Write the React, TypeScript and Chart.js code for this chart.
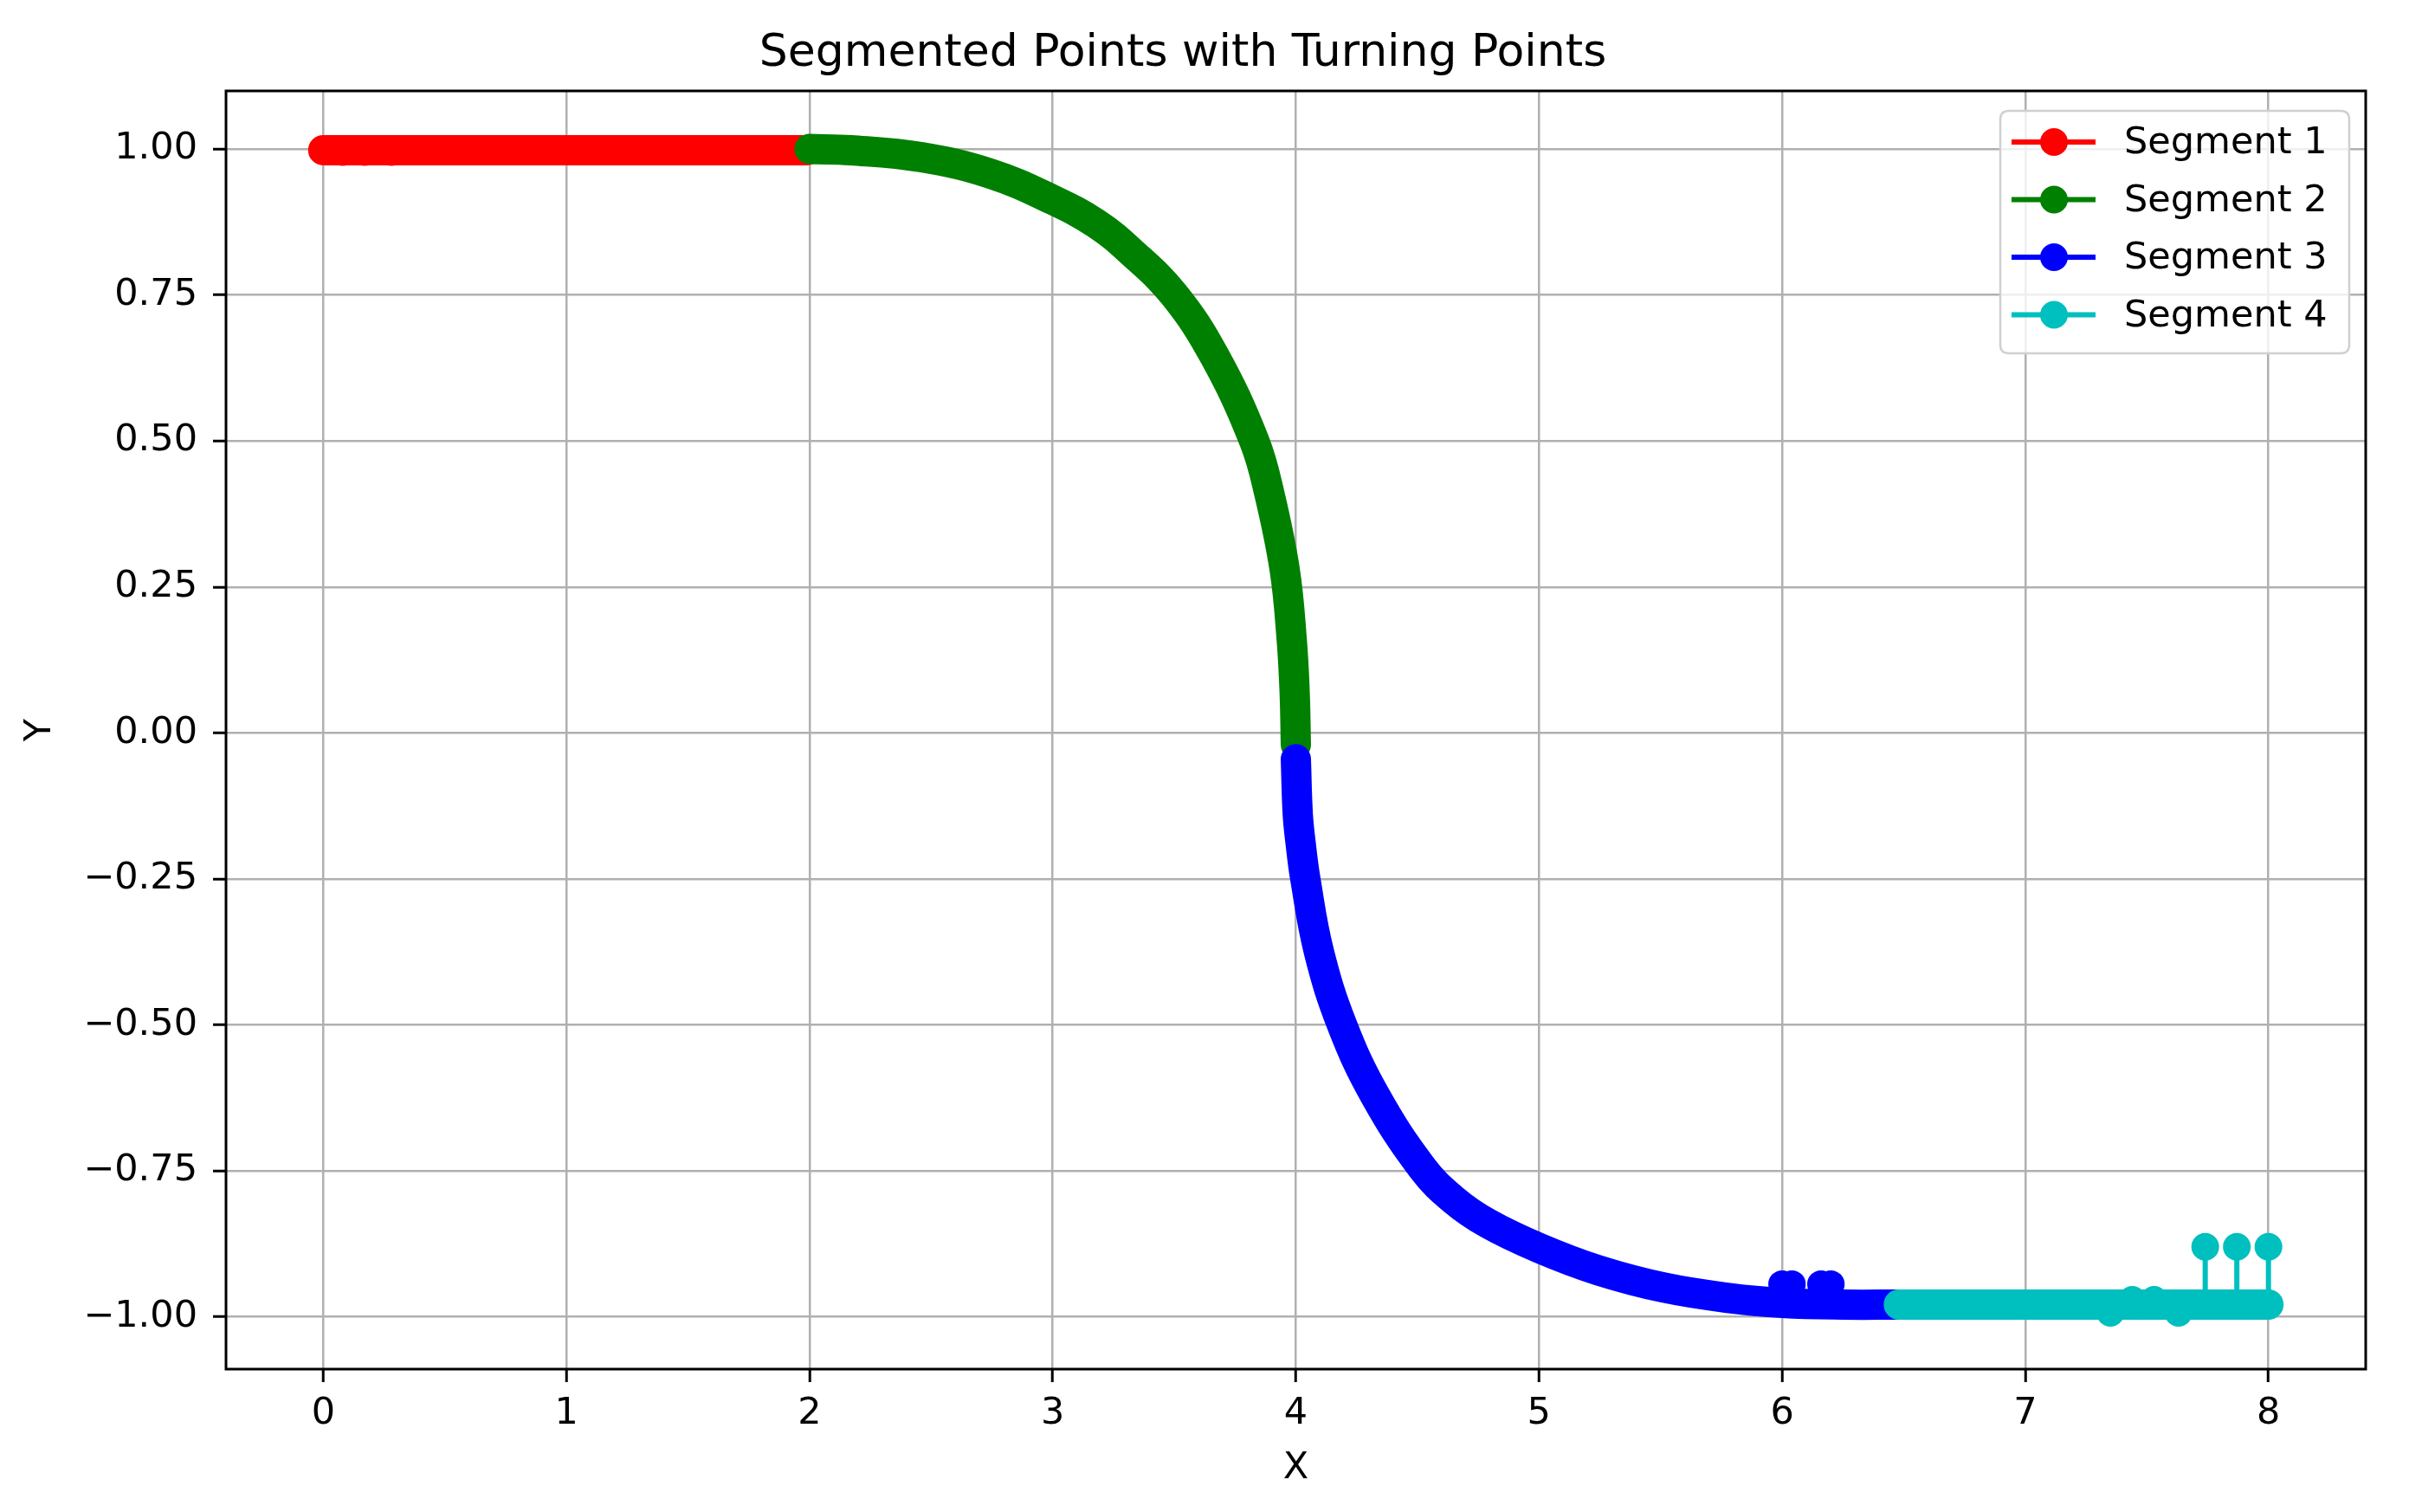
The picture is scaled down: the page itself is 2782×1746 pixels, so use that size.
import React, { useEffect, useRef } from 'react';
import { Chart, registerables } from 'chart.js';

Chart.register(...registerables);

// ---------- data ----------
const segmentLabels = ['Segment 1', 'Segment 2', 'Segment 3', 'Segment 4'];
const segmentColors = ['#ff0000', '#008000', '#0000ff', '#00bfbf'];

const seg1X = [0.0, 1.99];
const seg1Y = [0.998, 0.998];
const seg1ExtraX = [0.08, 0.17, 0.28];
const seg1ExtraY = [0.995, 0.995, 0.995];

const seg2X = [2.0, 2.17, 2.46, 2.75, 3.0, 3.18, 3.32, 3.5, 3.666, 3.829, 3.891, 3.954, 3.983, 3.995, 4.0];
const seg2Y = [1.0, 0.998, 0.986, 0.957, 0.913, 0.872, 0.825, 0.75, 0.645, 0.5, 0.41, 0.28, 0.16, 0.07, -0.02];

const seg3X = [4.0, 4.008, 4.02, 4.039, 4.095, 4.19, 4.326, 4.52, 4.65, 4.79, 5.0, 5.242, 5.515, 5.787, 6.0, 6.25, 6.48];
const seg3Y = [-0.045, -0.14, -0.19, -0.25, -0.375, -0.5, -0.621, -0.745, -0.8, -0.84, -0.882, -0.92, -0.95, -0.968, -0.976, -0.979, -0.979];
const seg3ExtraX = [6.0, 6.04, 6.16, 6.2];
const seg3ExtraY = [-0.944, -0.944, -0.944, -0.944];

const seg4X = [6.48, 8.0];
const seg4Y = [-0.979, -0.979];
const seg4ExtraX = [7.35, 7.44, 7.53, 7.63];
const seg4ExtraY = [-0.993, -0.971, -0.971, -0.993];
const seg4SpikeX = [7.74, 7.87, 8.0];
const seg4SpikeY = [-0.88, -0.88, -0.88];

const xTicks = [0, 1, 2, 3, 4, 5, 6, 7, 8];
const yTicks = [-1.0, -0.75, -0.5, -0.25, 0.0, 0.25, 0.5, 0.75, 1.0];

const titleText = 'Segmented Points with Turning Points';
const xLabel = 'X';
const yLabel = 'Y';

// ---------- helpers ----------
const FONT = "'DejaVu Sans', 'Liberation Sans', sans-serif";
const pts = (xs: number[], ys: (number | null)[]) => xs.map((x, i) => ({ x, y: ys[i] }));

const band = (xs: number[], ys: number[], color: string) => ({
  data: pts(xs, ys),
  showLine: true,
  borderColor: color,
  backgroundColor: color,
  borderWidth: 35,
  borderCapStyle: 'round',
  borderJoinStyle: 'round',
  cubicInterpolationMode: 'default',
  tension: 0.4,
  pointRadius: 0,
  pointHoverRadius: 0,
  fill: false,
});

const dots = (xs: number[], ys: number[], color: string) => ({
  data: pts(xs, ys),
  showLine: false,
  pointRadius: 16,
  pointHoverRadius: 16,
  pointBackgroundColor: color,
  pointBorderColor: color,
  pointBorderWidth: 0,
  backgroundColor: color,
  borderColor: color,
});

const stems = (xs: number[], ys: number[], baseY: number, color: string) => {
  const data: { x: number; y: number | null }[] = [];
  xs.forEach((x, i) => {
    data.push({ x, y: baseY });
    data.push({ x, y: ys[i] });
    data.push({ x, y: null });
  });
  return {
    data,
    showLine: true,
    spanGaps: false,
    borderColor: color,
    borderWidth: 6,
    pointRadius: 0,
    pointHoverRadius: 0,
  };
};

const fmtY = (v: number) => (v < 0 ? '\u2212' : '') + Math.abs(v).toFixed(2);

const framePlugin = {
  id: 'mplFrame',
  afterDatasetsDraw(chart: any) {
    const { ctx, chartArea: a } = chart;
    ctx.save();
    ctx.strokeStyle = '#000';
    ctx.lineWidth = 3;
    ctx.strokeRect(a.left, a.top, a.right - a.left, a.bottom - a.top);
    ctx.restore();
  },
};

const legendPlugin = {
  id: 'mplLegend',
  afterDraw(chart: any) {
    const { ctx, chartArea: a } = chart;
    const boxW = 403;
    const boxH = 280;
    const bx = a.right - 19 - boxW;
    const by = a.top + 23;
    const r = 10;
    ctx.save();
    ctx.beginPath();
    ctx.moveTo(bx + r, by);
    ctx.lineTo(bx + boxW - r, by);
    ctx.quadraticCurveTo(bx + boxW, by, bx + boxW, by + r);
    ctx.lineTo(bx + boxW, by + boxH - r);
    ctx.quadraticCurveTo(bx + boxW, by + boxH, bx + boxW - r, by + boxH);
    ctx.lineTo(bx + r, by + boxH);
    ctx.quadraticCurveTo(bx, by + boxH, bx, by + boxH - r);
    ctx.lineTo(bx, by + r);
    ctx.quadraticCurveTo(bx, by, bx + r, by);
    ctx.closePath();
    ctx.fillStyle = 'rgba(255,255,255,0.8)';
    ctx.fill();
    ctx.strokeStyle = '#d0d0d0';
    ctx.lineWidth = 2.5;
    ctx.stroke();

    segmentLabels.forEach((label, i) => {
      const cy = by + 36 + i * 66.5;
      const color = segmentColors[i];
      ctx.strokeStyle = color;
      ctx.lineWidth = 6;
      ctx.beginPath();
      ctx.moveTo(bx + 13, cy);
      ctx.lineTo(bx + 110, cy);
      ctx.stroke();
      ctx.fillStyle = color;
      ctx.beginPath();
      ctx.arc(bx + 62, cy, 16, 0, Math.PI * 2);
      ctx.fill();
      ctx.fillStyle = '#000';
      ctx.font = `43px ${FONT}`;
      ctx.textAlign = 'left';
      ctx.textBaseline = 'middle';
      ctx.fillText(label, bx + 143, cy + 2);
    });
    ctx.restore();
  },
};

export default function App() {
  const ref = useRef<HTMLCanvasElement>(null);

  useEffect(() => {
    if (!ref.current) return;
    const sequence: any[] = [
      band(seg1X, seg1Y, segmentColors[0]),
      dots(seg1ExtraX, seg1ExtraY, segmentColors[0]),
      band(seg2X, seg2Y, segmentColors[1]),
      band(seg3X, seg3Y, segmentColors[2]),
      dots(seg3ExtraX, seg3ExtraY, segmentColors[2]),
      band(seg4X, seg4Y, segmentColors[3]),
      stems(seg4SpikeX, seg4SpikeY, seg4Y[0], segmentColors[3]),
      dots(seg4ExtraX, seg4ExtraY, segmentColors[3]),
      dots(seg4SpikeX, seg4SpikeY, segmentColors[3]),
    ];
    // Chart.js draws lower `order` on top; keep matplotlib drawing sequence
    sequence.forEach((d, i) => {
      d.order = sequence.length - i;
    });

    const gridCommon = {
      color: '#b0b0b0',
      lineWidth: 2.5,
      drawTicks: true,
      tickLength: 15,
      tickColor: '#000',
      tickWidth: 3,
    };

    const chart = new Chart(ref.current, {
      type: 'scatter',
      data: { datasets: sequence },
      plugins: [framePlugin, legendPlugin],
      options: {
        animation: false,
        responsive: false,
        devicePixelRatio: 1,
        events: [],
        layout: { padding: { left: 0, right: 50, top: 0, bottom: 0 } },
        plugins: {
          legend: { display: false },
          tooltip: { enabled: false },
          title: {
            display: true,
            text: titleText,
            color: '#000',
            font: { family: FONT, size: 52, weight: 'normal' },
            padding: { top: 31, bottom: 11.6 },
          },
        },
        scales: {
          x: {
            type: 'linear',
            min: -0.4,
            max: 8.4,
            border: { display: false },
            grid: gridCommon,
            afterBuildTicks: (scale: any) => {
              scale.ticks = xTicks.map((v) => ({ value: v }));
            },
            afterFit: (scale: any) => {
              scale.height = 165;
            },
            ticks: {
              color: '#000',
              font: { family: FONT, size: 43 },
              padding: 11,
              maxRotation: 0,
              autoSkip: false,
              callback: (v: any) => String(v),
            },
            title: {
              display: true,
              text: xLabel,
              color: '#000',
              font: { family: FONT, size: 43 },
              padding: { top: 0, bottom: 24 },
            },
          },
          y: {
            type: 'linear',
            min: -1.0895,
            max: 1.0995,
            border: { display: false },
            grid: gridCommon,
            afterBuildTicks: (scale: any) => {
              scale.ticks = yTicks.map((v) => ({ value: v }));
            },
            afterFit: (scale: any) => {
              scale.width = 261;
            },
            ticks: {
              color: '#000',
              font: { family: FONT, size: 43 },
              padding: 18,
              autoSkip: false,
              callback: (v: any) => fmtY(Number(v)),
            },
            title: {
              display: true,
              text: yLabel,
              color: '#000',
              font: { family: FONT, size: 43 },
              padding: { top: 21, bottom: 0 },
            },
          },
        },
      } as any,
    });
    return () => chart.destroy();
  }, []);

  return (
    <canvas
      ref={ref}
      width={2782}
      height={1746}
      style={{ position: 'absolute', left: 0, top: 0, display: 'block' }}
    />
  );
}
